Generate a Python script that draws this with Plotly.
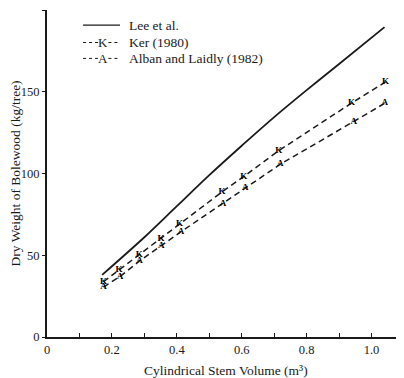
import plotly.graph_objects as go

# Data
lee_x = [0.17, 0.30, 0.40, 0.50, 0.60, 0.70, 0.80, 0.90, 1.04]
lee_y = [38, 61, 80, 99, 117, 134.5, 151, 167, 189.5]

ker_x = [0.174, 0.222, 0.284, 0.351, 0.408, 0.539, 0.606, 0.714, 0.938, 1.043]
ker_y = [33.8, 41.0, 50.5, 60.3, 69.0, 88.7, 98.1, 114.0, 143.0, 156.0]

alban_x = [0.174, 0.225, 0.285, 0.352, 0.413, 0.542, 0.611, 0.719, 0.945, 1.041]
alban_y = [30.5, 37.0, 46.5, 56.0, 64.4, 81.8, 91.0, 105.7, 131.8, 143.0]

x_tickvals = [0, 0.1, 0.2, 0.3, 0.4, 0.5, 0.6, 0.7, 0.8, 0.9, 1.0]
x_ticktext = ["0", "", "0.2", "", "0.4", "", "0.6", "", "0.8", "", "1.0"]
y_tickvals = [0, 50, 100, 150, 200]

legend_names = ["Lee et al.", "Ker (1980)", "Alban and Laidly (1982)"]
marker_letters = ["K", "A"]

FONT = "Liberation Serif, Times New Roman, serif"
INK = "#1a1a1a"

fig = go.Figure()
fig.add_trace(go.Scatter(x=lee_x, y=lee_y, mode="lines",
                         line=dict(color=INK, width=1.8, shape="spline"),
                         showlegend=False))
for xs, ys, letter in [(ker_x, ker_y, marker_letters[0]),
                       (alban_x, alban_y, marker_letters[1])]:
    fig.add_trace(go.Scatter(x=xs, y=ys, mode="lines+text",
                             text=["<b>%s</b>" % letter] * len(xs),
                             textposition="middle center",
                             textfont=dict(family=FONT, size=9, color="#000000"),
                             line=dict(color=INK, width=1.5, dash="6px,4px"),
                             showlegend=False))

# Legend drawn by hand (paper coordinates)
rows_y = [0.954, 0.9006, 0.852]
x0, x1, xt = 0.101, 0.2045, 0.224
shapes = [dict(type="line", xref="paper", yref="paper", x0=x0, x1=x1,
               y0=rows_y[0], y1=rows_y[0], line=dict(color=INK, width=1.3))]
annotations = []
for i, letter in enumerate(marker_letters):
    yy = rows_y[i + 1]
    shapes.append(dict(type="line", xref="paper", yref="paper", x0=x0, x1=0.145,
                       y0=yy, y1=yy, line=dict(color=INK, width=1, dash="dot")))
    shapes.append(dict(type="line", xref="paper", yref="paper", x0=0.172, x1=x1,
                       y0=yy, y1=yy, line=dict(color=INK, width=1, dash="dot")))
    annotations.append(dict(xref="paper", yref="paper", x=0.158, y=yy, text=letter,
                            showarrow=False, xanchor="center", yanchor="middle",
                            font=dict(family=FONT, size=13, color=INK)))
for name, yy in zip(legend_names, rows_y):
    annotations.append(dict(xref="paper", yref="paper", x=xt, y=yy, text=name,
                            showarrow=False, xanchor="left", yanchor="middle",
                            font=dict(family=FONT, size=13.5, color=INK)))

# Axis titles
annotations.append(dict(xref="paper", yref="paper", x=0.5, y=0, yshift=-33,
                        text="Cylindrical Stem Volume (m³)", showarrow=False,
                        xanchor="center", yanchor="middle",
                        font=dict(family=FONT, size=13.5, color=INK)))
annotations.append(dict(xref="paper", yref="paper", x=0, xshift=-32, y=0.5,
                        text="Dry Weight of Bolewood (kg/tree)", showarrow=False,
                        textangle=-90, xanchor="center", yanchor="middle",
                        font=dict(family=FONT, size=13.5, color=INK)))

# The page body has an 8px margin, so the figure is shrunk by 8px to fit.
fig.update_layout(
    width=396, height=370,
    margin=dict(l=39, r=0, t=2, b=41),
    paper_bgcolor="white", plot_bgcolor="white",
    font=dict(family=FONT, color=INK),
    shapes=shapes, annotations=annotations,
    xaxis=dict(range=[0, 1.1], tickvals=x_tickvals, ticktext=x_ticktext,
               ticks="inside", ticklen=4, tickwidth=1.3, tickcolor=INK,
               showline=True, linecolor=INK, linewidth=1.6,
               showgrid=False, zeroline=False,
               tickfont=dict(family=FONT, size=12.5, color=INK)),
    yaxis=dict(range=[0, 200], tickvals=y_tickvals,
               ticks="outside", ticklen=3, tickwidth=1.3, tickcolor=INK,
               showline=True, linecolor=INK, linewidth=1.8,
               showgrid=False, zeroline=False,
               tickfont=dict(family=FONT, size=12.5, color=INK)),
)

fig.write_html("out.html")
